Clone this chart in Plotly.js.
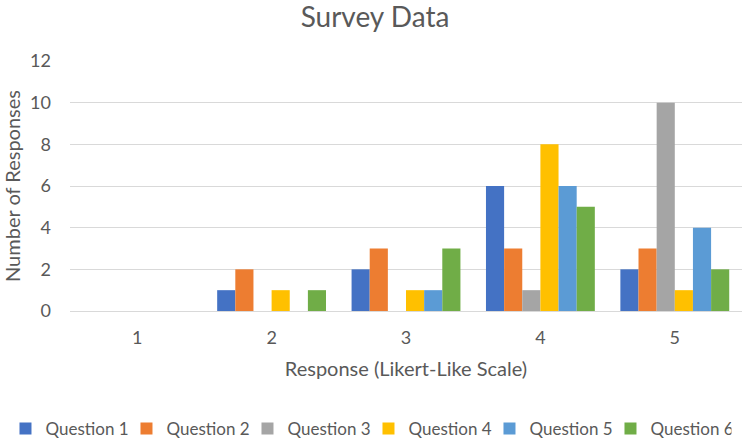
<!DOCTYPE html>
<html>
<head>
<meta charset="utf-8">
<script src="https://cdn.plot.ly/plotly-3.0.1.min.js"></script>
<style>html,body{margin:0;padding:0;background:#fff;}#chart{width:750px;height:441px;}</style>
</head>
<body>
<div id="chart"></div>
<script>
const categories = ['1', '2', '3', '4', '5'];
const seriesNames = ['Question 1', 'Question 2', 'Question 3', 'Question 4', 'Question 5', 'Question 6'];
const question1 = [0, 1, 2, 6, 2];
const question2 = [0, 2, 3, 3, 3];
const question3 = [0, 0, 0, 1, 10];
const question4 = [0, 1, 1, 8, 1];
const question5 = [0, 0, 1, 6, 4];
const question6 = [0, 1, 3, 5, 2];
const yTicks = [0, 2, 4, 6, 8, 10, 12];

const seriesValues = [question1, question2, question3, question4, question5, question6];
const colors = ['#4472C4', '#ED7D31', '#A5A5A5', '#FFC000', '#5B9BD5', '#70AD47'];

const FONT = 'Lato, "Open Sans", sans-serif';
const GRAY = '#595959';

const traces = seriesValues.map((vals, i) => ({
  type: 'bar',
  name: seriesNames[i],
  x: categories,
  y: vals,
  marker: {color: colors[i], line: {width: 0}},
  hoverinfo: 'x+y+name'
}));

const layout = {
  width: 750,
  height: 441,
  paper_bgcolor: '#ffffff',
  plot_bgcolor: '#ffffff',
  margin: {l: 70, r: 8, t: 61, b: 130, autoexpand: false},
  font: {family: FONT, color: GRAY, size: 14},
  title: {
    text: 'Survey Data',
    font: {family: FONT, size: 28, color: GRAY},
    x: 0.5, xanchor: 'center',
    y: 1 - 17/441, yanchor: 'middle', yref: 'container'
  },
  barmode: 'group',
  bargap: 0.19,
  bargroupgap: 0,
  xaxis: {
    type: 'category',
    showgrid: false,
    showline: true,
    linecolor: '#D9D9D9',
    linewidth: 1,
    ticks: '',
    ticklabelstandoff: 10,
    tickfont: {family: FONT, size: 18, color: GRAY},
    title: {text: 'Response (Likert-Like Scale)', font: {family: FONT, size: 20, color: GRAY}, standoff: 15},
    automargin: false,
    fixedrange: true
  },
  yaxis: {
    range: [0, 12],
    tickvals: yTicks,
    ticktext: yTicks.map(String),
    showgrid: true,
    gridcolor: '#D9D9D9',
    gridwidth: 1,
    zeroline: false,
    showline: false,
    ticks: '',
    ticklabelstandoff: 18,
    tickfont: {family: FONT, size: 18, color: GRAY},
    title: {text: 'Number of Responses', font: {family: FONT, size: 20, color: GRAY}, standoff: 8},
    automargin: false,
    fixedrange: true
  },
  showlegend: true,
  legend: {
    orientation: 'h',
    x: -0.096, xanchor: 'left', xref: 'paper',
    y: -0.472, yanchor: 'middle', yref: 'paper',
    font: {family: FONT, size: 17, color: GRAY},
    itemwidth: 30,
    entrywidth: 76,
    entrywidthmode: 'pixels',
    tracegroupgap: 0,
    traceorder: 'normal'
  }
};

Plotly.newPlot('chart', traces, layout, {displayModeBar: false, staticPlot: false});
</script>
</body>
</html>
